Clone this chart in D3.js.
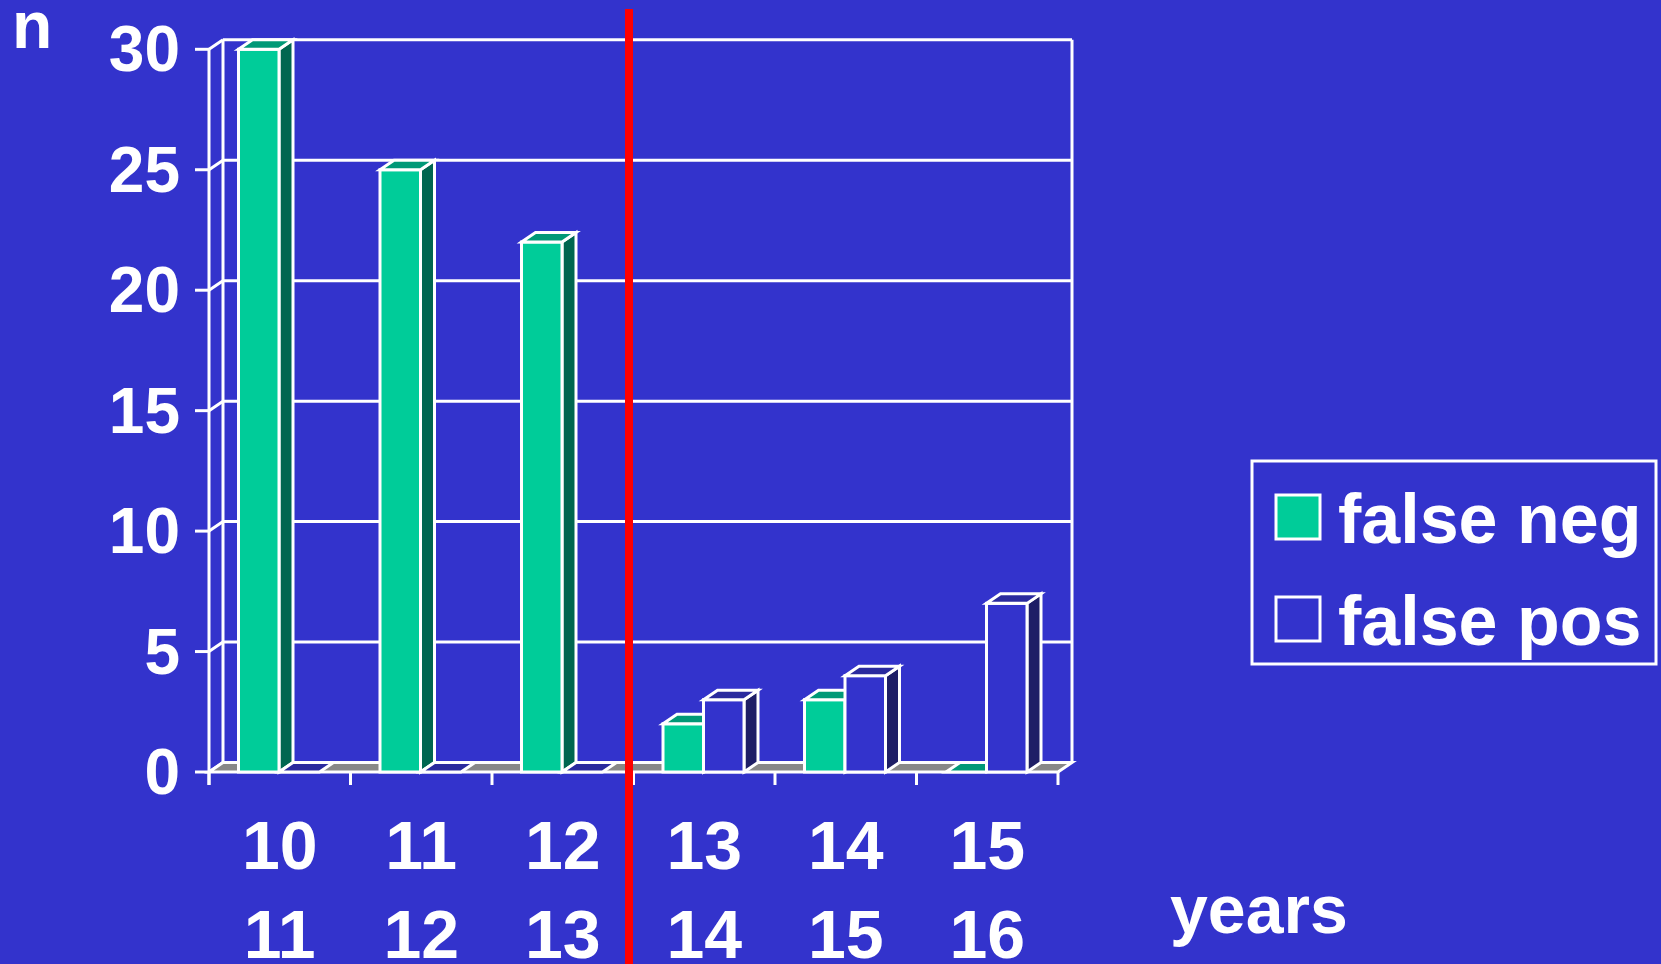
<!DOCTYPE html>
<html>
<head>
<meta charset="utf-8">
<script src="https://cdn.jsdelivr.net/npm/d3@7"></script>
<style>
  html, body { margin: 0; padding: 0; background: #3333CC; }
  svg { display: block; }
  text { font-family: "Liberation Sans", Arial, sans-serif; font-weight: bold; fill: #ffffff; }
</style>
</head>
<body>
<svg id="chart" width="1661" height="964"></svg>
<script>
// Age groups (two-line labels) and counts per series
const categories = ["10-11", "11-12", "12-13", "13-14", "14-15", "15-16"];
const labelTop = ["10", "11", "12", "13", "14", "15"];
const labelBottom = ["11", "12", "13", "14", "15", "16"];
const falseNeg = [30, 25, 22, 2, 3, 0];
const falsePos = [0, 0, 0, 3, 4, 7];
const yTicks = [0, 5, 10, 15, 20, 25, 30];
const seriesNames = ["false neg", "false pos"];

const W = 1661, H = 964;
const bg = "#3333CC";
const svg = d3.select("#chart");

// Pseudo-3D depth offset
const DX = 14, DY = -9.5;
const SW = 3;

const x = d3.scaleBand().domain(categories).range([209, 1058]).padding(0);
const y = d3.scaleLinear().domain([0, 30]).range([772, 49.3]);
const sub = d3.scaleBand().domain(seriesNames)
  .range([29.5, x.bandwidth() - 31]).padding(0);

const styles = {
  "false neg": { front: "#00CC99", top: "#009977", side: "#006650" },
  "false pos": { front: "#3333CC", top: "#2A2A9E", side: "#1E1E66" }
};

const x0 = x.range()[0], x1 = x.range()[1];
const y0 = y(0), yTop = y(30);

svg.append("rect").attr("width", W).attr("height", H).attr("fill", bg);

const frame = svg.append("g").attr("stroke", "#ffffff").attr("stroke-width", SW).attr("fill", "none");

// Back wall gridlines
frame.selectAll("line.grid").data(yTicks).join("line")
  .attr("x1", x0 + DX).attr("x2", x1 + DX)
  .attr("y1", d => y(d) + DY).attr("y2", d => y(d) + DY);

// Wall edges and diagonal tick connectors
frame.append("line").attr("x1", x0 + DX).attr("x2", x0 + DX)
  .attr("y1", yTop + DY).attr("y2", y0 + DY);
frame.append("line").attr("x1", x1 + DX).attr("x2", x1 + DX)
  .attr("y1", yTop + DY).attr("y2", y0 + DY);
frame.selectAll("line.diag").data(yTicks).join("line")
  .attr("x1", x0).attr("x2", x0 + DX)
  .attr("y1", d => y(d)).attr("y2", d => y(d) + DY);

// Floor
svg.append("path")
  .attr("d", `M${x0},${y0} L${x1},${y0} L${x1 + DX},${y0 + DY} L${x0 + DX},${y0 + DY} Z`)
  .attr("fill", "#888888").attr("stroke", "#ffffff").attr("stroke-width", SW);

// Front y axis with ticks
frame.append("line").attr("x1", x0).attr("x2", x0).attr("y1", yTop).attr("y2", y0 + 13);
frame.selectAll("line.ytick").data(yTicks).join("line")
  .attr("x1", x0 - 14).attr("x2", x0)
  .attr("y1", d => y(d)).attr("y2", d => y(d));

// X ticks at category boundaries
const bounds = categories.map(c => x(c)).concat([x1]);
frame.selectAll("line.xtick").data(bounds).join("line")
  .attr("x1", d => d).attr("x2", d => d)
  .attr("y1", y0).attr("y2", y0 + 13);

// Bars
const barData = [];
categories.forEach((c, i) => {
  barData.push({ c, s: "false neg", v: falseNeg[i] });
  barData.push({ c, s: "false pos", v: falsePos[i] });
});

const bars = svg.append("g").attr("stroke", "#ffffff").attr("stroke-width", SW).attr("stroke-linejoin", "miter");
barData.forEach(d => {
  const bx = x(d.c) + sub(d.s);
  const bw = sub.bandwidth();
  const yt = y(d.v);
  const st = styles[d.s];
  const g = bars.append("g");
  if (d.v > 0) {
    g.append("path")
      .attr("d", `M${bx + bw},${y0} L${bx + bw + DX},${y0 + DY} L${bx + bw + DX},${yt + DY} L${bx + bw},${yt} Z`)
      .attr("fill", st.side);
    g.append("rect").attr("x", bx).attr("y", yt).attr("width", bw).attr("height", y0 - yt)
      .attr("fill", st.front);
  }
  g.append("path")
    .attr("d", `M${bx},${yt} L${bx + bw},${yt} L${bx + bw + DX},${yt + DY} L${bx + DX},${yt + DY} Z`)
    .attr("fill", st.top);
});

// Y tick labels
svg.selectAll("text.ylab").data(yTicks).join("text")
  .attr("x", 180).attr("y", d => y(d) + 22)
  .attr("text-anchor", "end").attr("font-size", 64)
  .text(d => d);

// X labels (two lines)
svg.selectAll("text.xl1").data(categories).join("text")
  .attr("x", d => x(d) + x.bandwidth() / 2).attr("y", 869)
  .attr("text-anchor", "middle").attr("font-size", 68)
  .text((d, i) => labelTop[i]);
svg.selectAll("text.xl2").data(categories).join("text")
  .attr("x", d => x(d) + x.bandwidth() / 2).attr("y", 958)
  .attr("text-anchor", "middle").attr("font-size", 68)
  .text((d, i) => labelBottom[i]);

// Axis titles
svg.append("text").attr("x", 12).attr("y", 48).attr("font-size", 66).text("n");
svg.append("text").attr("x", 1170).attr("y", 933).attr("font-size", 68).text("years");

// Divider between 12-13 and 13-14
svg.append("rect").attr("x", 625).attr("y", 9).attr("width", 8).attr("height", H - 9).attr("fill", "#FF0000");

// Legend
const legend = svg.append("g");
legend.append("rect").attr("x", 1252).attr("y", 461).attr("width", 404).attr("height", 203)
  .attr("fill", "none").attr("stroke", "#ffffff").attr("stroke-width", SW);
seriesNames.forEach((s, i) => {
  const ly = 495 + i * 102;
  legend.append("rect").attr("x", 1276).attr("y", ly).attr("width", 44).attr("height", 44)
    .attr("fill", styles[s].front).attr("stroke", "#ffffff").attr("stroke-width", SW);
  legend.append("text").attr("x", 1338).attr("y", ly + 48).attr("font-size", 70).text(s);
});
</script>
</body>
</html>
